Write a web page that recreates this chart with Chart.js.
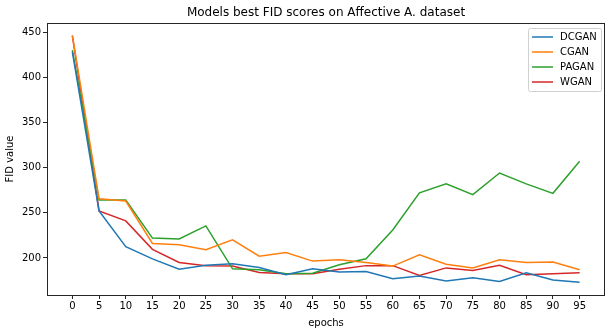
<!DOCTYPE html>
<html>
<head>
<meta charset="utf-8">
<script src="https://cdn.jsdelivr.net/npm/chart.js@4.4.1/dist/chart.umd.min.js"></script>
<style>
  html, body { margin: 0; padding: 0; background: #fff; }
  #wrap { width: 612px; height: 333px; position: relative; }
</style>
</head>
<body>
<div id="wrap"><canvas id="chart"></canvas></div>
<script>
const epochs = [0, 5, 10, 15, 20, 25, 30, 35, 40, 45, 50, 55, 60, 65, 70, 75, 80, 85, 90, 95];
const dcgan = [428, 252, 212.5, 199, 187.5, 192, 193.5, 189.5, 181.5, 188, 184.5, 185, 177, 180, 174.5, 178, 174, 183.5, 175.5, 173];
const cgan  = [446, 265.5, 263, 216, 214.5, 209, 220, 202, 206, 196.5, 198, 195, 191, 203.5, 193, 189, 198, 195, 195.5, 187];
const pagan = [430, 264, 264, 222, 221, 235.5, 188, 187, 182.5, 183, 192.5, 199, 231, 272, 282, 270, 294, 282, 271.5, 307];
const wgan  = [446, 252, 241, 209.5, 195, 191.5, 191, 184, 182.5, 182.5, 187.5, 191.5, 191.5, 180.5, 189, 186, 192, 181.5, 182.5, 183.5];
const seriesNames = ['DCGAN', 'CGAN', 'PAGAN', 'WGAN'];
const seriesColors = ['#1f77b4', '#ff7f0e', '#2ca02c', '#d62728'];
const xTicks = epochs;
const yTicks = [200, 250, 300, 350, 400, 450];
const chartTitle = 'Models best FID scores on Affective A. dataset';

const FONT = 'DejaVu Sans, sans-serif';
const allSeries = [dcgan, cgan, pagan, wgan];

// title centred on the plot area + frame + legend inside the plot, matplotlib style
const mplExtras = {
    id: 'mplExtras',
    afterDraw(chart) {
        const ctx = chart.ctx;
        const a = chart.chartArea;
        ctx.save();
        ctx.strokeStyle = '#262626';
        ctx.lineWidth = 1;
        ctx.strokeRect(Math.round(a.left) + 0.5, Math.round(a.top) + 0.5, Math.round(a.right - a.left) - 1, Math.round(a.bottom - a.top));

        ctx.fillStyle = '#000';
        ctx.font = '12px ' + FONT;
        ctx.textAlign = 'center';
        ctx.textBaseline = 'middle';
        ctx.fillText(chartTitle, (a.left + a.right) / 2, 13);

        // legend box
        const bw = 73, bh = 63;
        const bx = a.right - bw - 4, by = a.top + 5;
        ctx.fillStyle = 'rgba(255,255,255,0.8)';
        ctx.strokeStyle = '#d0d0d0';
        ctx.beginPath();
        ctx.roundRect(bx + 0.5, by + 0.5, bw, bh, 2);
        ctx.fill();
        ctx.stroke();
        ctx.font = '10px ' + FONT;
        ctx.textAlign = 'left';
        chart.data.datasets.forEach((ds, i) => {
            const y = by + 9 + i * 15;
            ctx.strokeStyle = ds.borderColor;
            ctx.lineWidth = 1.5;
            ctx.beginPath();
            ctx.moveTo(bx + 4, y);
            ctx.lineTo(bx + 25, y);
            ctx.stroke();
            ctx.fillStyle = '#000';
            ctx.fillText(ds.label, bx + 32, y);
        });
        ctx.restore();
    }
};

new Chart(document.getElementById('chart'), {
    type: 'line',
    data: {
        datasets: allSeries.map((vals, i) => ({
            label: seriesNames[i],
            data: epochs.map((e, j) => ({ x: e, y: vals[j] })),
            borderColor: seriesColors[i],
            backgroundColor: seriesColors[i],
            borderWidth: 1.5,
            pointRadius: 0,
            tension: 0,
            fill: false
        }))
    },
    options: {
        responsive: true,
        maintainAspectRatio: false,
        animation: false,
        layout: { padding: { top: 23, right: 7, left: 0, bottom: 0 } },
        plugins: {
            legend: { display: false },
            title: { display: false },
            tooltip: { enabled: false }
        },
        scales: {
            x: {
                type: 'linear',
                min: -4.75,
                max: 99.75,
                afterBuildTicks: s => { s.ticks = xTicks.map(v => ({ value: v })); },
                afterFit: s => { s.height = 38; },
                grid: { drawOnChartArea: false, tickLength: 4, color: '#262626' },
                border: { display: false },
                ticks: { color: '#000', font: { family: FONT, size: 10 }, padding: 1, maxRotation: 0, autoSkip: false },
                title: { display: true, text: 'epochs', color: '#000', font: { family: FONT, size: 10 }, padding: { top: 2, bottom: 4 } }
            },
            y: {
                min: 159,
                max: 460,
                afterBuildTicks: s => { s.ticks = yTicks.map(v => ({ value: v })); },
                afterFit: s => { s.width = 47; },
                grid: { drawOnChartArea: false, tickLength: 4, color: '#262626' },
                border: { display: false },
                ticks: { color: '#000', font: { family: FONT, size: 10 }, padding: 2, autoSkip: false },
                title: { display: true, text: 'FID value', color: '#000', font: { family: FONT, size: 10 }, padding: { top: 4, bottom: 2 } }
            }
        }
    },
    plugins: [mplExtras]
});
</script>
</body>
</html>
